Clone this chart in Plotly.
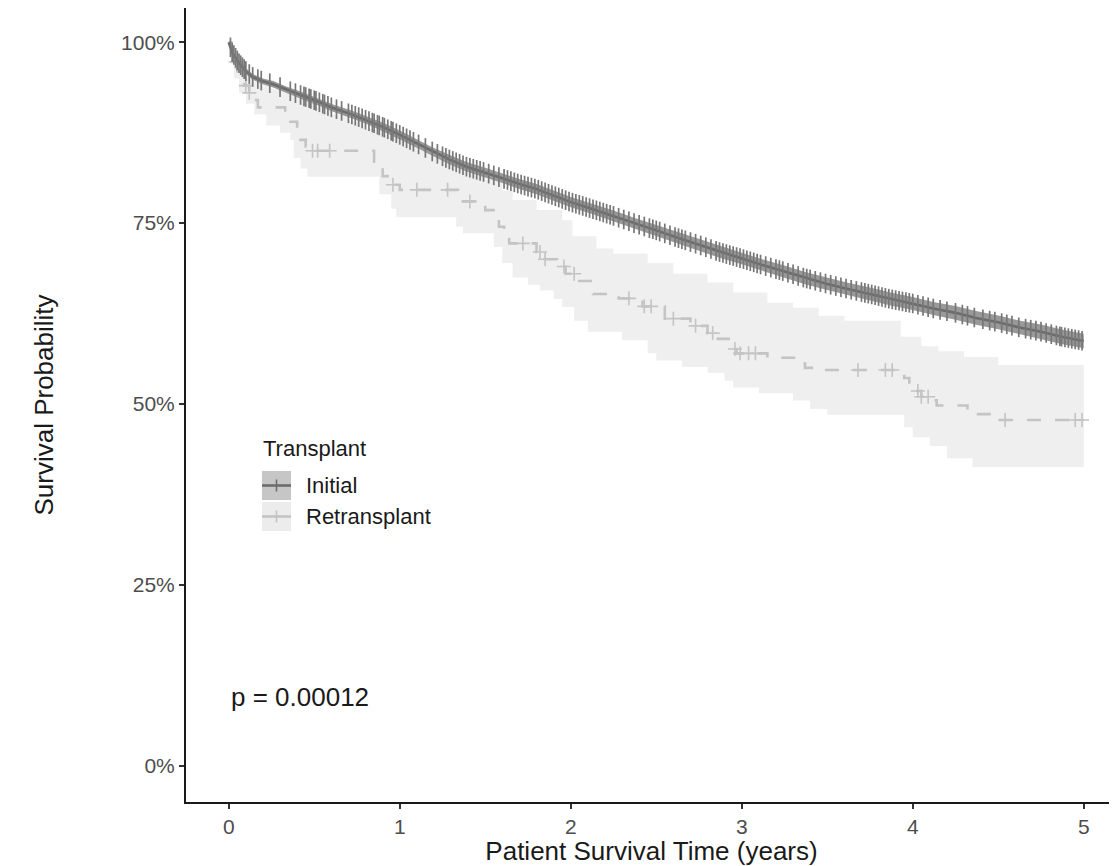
import numpy as np
import plotly.graph_objects as go

# ---------------- data (survival in %) ----------------
# Initial transplant: KM estimate (dense -> practically smooth)
init_t = [0, 0.02, 0.06, 0.10, 0.14, 0.20, 0.26, 0.34, 0.42, 0.52,
          0.61, 0.71, 0.81, 0.90, 1.00, 1.10, 1.19, 1.29, 1.39, 1.50,
          1.60, 1.70, 1.80, 1.90, 2.00, 2.12, 2.25, 2.37, 2.50, 2.62,
          2.75, 2.87, 3.00, 3.12, 3.25, 3.37, 3.50, 3.62, 3.75, 3.87,
          4.00, 4.12, 4.25, 4.37, 4.50, 4.62, 4.75, 4.87, 5.00]
init_s = [100, 98.6, 97.1, 96.0, 95.2, 94.6, 94.2, 93.4, 92.7, 91.8,
          90.9, 90.1, 89.2, 88.3, 87.2, 86.0, 84.9, 83.8, 82.8, 82.0,
          81.2, 80.4, 79.7, 78.8, 77.9, 77.0, 76.0, 75.0, 74.0, 73.0,
          72.0, 71.0, 70.1, 69.2, 68.3, 67.4, 66.6, 65.9, 65.2, 64.5,
          63.9, 63.2, 62.6, 61.9, 61.3, 60.6, 60.0, 59.3, 58.7]
init_hi = [100, 98.8, 97.4, 96.4, 95.6, 95.0, 94.65, 93.85, 93.2, 92.3,
           91.4, 90.65, 89.75, 88.9, 87.8, 86.6, 85.5, 84.45, 83.45, 82.65,
           81.85, 81.1, 80.4, 79.5, 78.6, 77.7, 76.75, 75.75, 74.75, 73.75,
           72.8, 71.8, 70.9, 70.0, 69.15, 68.25, 67.45, 66.75, 66.1, 65.4,
           64.8, 64.1, 63.55, 62.85, 62.25, 61.55, 61.0, 60.3, 59.7]
init_lo = [100, 98.4, 96.8, 95.6, 94.8, 94.2, 93.75, 92.95, 92.2, 91.3,
           90.4, 89.55, 88.65, 87.7, 86.6, 85.4, 84.3, 83.15, 82.15, 81.35,
           80.55, 79.7, 79.0, 78.1, 77.2, 76.3, 75.25, 74.25, 73.25, 72.25,
           71.2, 70.2, 69.3, 68.4, 67.45, 66.55, 65.75, 65.05, 64.3, 63.6,
           63.0, 62.3, 61.65, 60.95, 60.35, 59.65, 59.0, 58.3, 57.7]
init_cens = [0.01, 0.02, 0.03, 0.04, 0.05, 0.06, 0.07, 0.08, 0.09, 0.10,
             0.12, 0.14, 0.17, 0.19, 0.24, 0.30, 0.36, 0.39, 0.42, 0.44,
             0.45, 0.47, 0.48, 0.50, 0.51, 0.53, 0.55, 0.56, 0.58, 0.60,
             0.63, 0.66, 0.70, 0.72, 0.74, 0.76, 0.78, 0.80, 0.82, 0.84,
             0.85, 0.87, 0.88, 0.90, 0.91, 0.93, 0.95, 0.96, 0.98, 1.00,
             1.02, 1.04, 1.06, 1.08, 1.11, 1.15, 1.19, 1.22, 1.25, 1.27,
             1.29, 1.31, 1.33, 1.35, 1.37, 1.39, 1.41, 1.43, 1.45, 1.47,
             1.49, 1.52, 1.55, 1.58, 1.61, 1.63, 1.65, 1.67, 1.69, 1.71,
             1.73, 1.75, 1.77, 1.79, 1.81, 1.83, 1.85, 1.87, 1.89, 1.91,
             1.93, 1.95, 1.97, 1.99, 2.01, 2.03, 2.05, 2.07, 2.09, 2.11,
             2.13, 2.15, 2.17, 2.19, 2.21, 2.23, 2.25, 2.28, 2.31, 2.34,
             2.37, 2.40, 2.43, 2.46, 2.48, 2.50, 2.52, 2.55, 2.58, 2.61,
             2.63, 2.65, 2.67, 2.70, 2.73, 2.76, 2.79, 2.82, 2.85, 2.87,
             2.89, 2.91, 2.93, 2.95, 2.97, 2.99, 3.01, 3.03, 3.05, 3.07,
             3.09, 3.11, 3.14, 3.17, 3.20, 3.22, 3.24, 3.27, 3.30, 3.33,
             3.36, 3.38, 3.40, 3.43, 3.46, 3.49, 3.52, 3.55, 3.58, 3.61,
             3.64, 3.67, 3.70, 3.72, 3.74, 3.76, 3.78, 3.80, 3.82, 3.84,
             3.86, 3.88, 3.90, 3.92, 3.94, 3.96, 3.98, 4.00, 4.03, 4.06,
             4.09, 4.12, 4.16, 4.20, 4.25, 4.29, 4.32, 4.36, 4.41, 4.45,
             4.48, 4.52, 4.55, 4.58, 4.62, 4.66, 4.69, 4.72, 4.75, 4.78,
             4.81, 4.84, 4.86, 4.87, 4.89, 4.91, 4.93, 4.95, 4.97, 4.99]

# Retransplant: KM step curve
rt_t = [0, 0.015, 0.03, 0.05, 0.07, 0.09, 0.12, 0.14, 0.17, 0.33,
        0.36, 0.40, 0.42, 0.45, 0.47, 0.85, 0.90, 0.95, 1.00, 1.34,
        1.50, 1.58, 1.61, 1.64, 1.80, 1.84, 1.92, 1.97, 2.03, 2.13,
        2.28, 2.42, 2.55, 2.70, 2.80, 2.86, 2.94, 2.97, 3.15, 3.33,
        3.37, 3.45, 3.95, 3.98, 4.01, 4.05, 4.10, 4.14, 4.32, 4.48,
        5.00]
rt_s = [100, 98.5, 97.3, 96, 95, 94, 93, 92, 91, 90,
        89, 87.5, 86.5, 85.6, 85.0, 83.5, 81.5, 80.3, 79.6, 78.0,
        76.8, 74.5, 73.2, 72.2, 71.0, 70.0, 69.0, 68.0, 67.0, 65.2,
        64.6, 63.5, 61.8, 60.8, 59.8, 59.0, 57.6, 57.0, 56.4, 55.6,
        55.0, 54.7, 53.6, 52.5, 51.8, 51.0, 50.5, 49.8, 48.6, 47.8,
        47.8]
rt_cens = [0.04, 0.10, 0.12, 0.49, 0.52, 0.59, 0.96, 1.10, 1.28, 1.41,
           1.72, 1.82, 1.85, 1.96, 2.02, 2.34, 2.43, 2.47, 2.60, 2.73,
           2.83, 2.96, 2.99, 3.04, 3.08, 3.68, 3.84, 3.88, 4.03, 4.05,
           4.09, 4.54, 4.95, 4.99]
rt_hi_t = [0, 0.01, 0.03, 0.06, 0.10, 0.15, 0.25, 0.40, 0.50, 0.60,
           0.70, 0.80, 0.90, 1.00, 1.10, 1.20, 1.30, 1.40, 1.50, 1.60,
           1.66, 1.80, 1.95, 2.01, 2.15, 2.25, 2.45, 2.60, 2.80, 2.95,
           3.15, 3.30, 3.45, 3.60, 3.93, 4.05, 4.15, 4.30, 4.50, 5.00]
rt_hi = [100, 98.5, 97.5, 96.5, 95.5, 94.5, 93.5, 92.2, 91.0, 90.0,
         89.0, 88.0, 87.2, 86.3, 85.0, 84.0, 83.0, 82.0, 81.0, 79.5,
         78.2, 76.8, 75.4, 73.2, 71.5, 70.8, 69.5, 68.0, 66.8, 65.4,
         64.0, 63.3, 62.2, 61.5, 59.3, 58.0, 57.3, 56.5, 55.4, 55.4]
rt_lo_t = [0, 0.01, 0.03, 0.06, 0.10, 0.15, 0.22, 0.30, 0.36, 0.38,
           0.42, 0.46, 0.88, 0.95, 0.98, 1.33, 1.37, 1.55, 1.60, 1.66,
           1.75, 1.82, 1.90, 1.95, 2.02, 2.10, 2.30, 2.45, 2.50, 2.65,
           2.80, 2.90, 2.95, 3.10, 3.30, 3.40, 3.50, 3.95, 4.00, 4.10,
           4.20, 4.35, 5.00]
rt_lo = [100, 97, 95, 93, 91.5, 90, 88.5, 87.5, 86.5, 84,
         82.5, 81.4, 79, 77, 75.8, 74.5, 73.6, 71.7, 69.5, 67.5,
         66.5, 65.7, 64.5, 63.4, 61.5, 60, 58.8, 57, 56, 55.1,
         54.3, 53.2, 52.3, 51.5, 50.5, 49.3, 48.5, 46.8, 45.4, 44.2,
         42.5, 41.3, 41.3]

x_ticks = [0, 1, 2, 3, 4, 5]
y_ticks = [0, 0.25, 0.5, 0.75, 1.0]
y_ticklabels = ["0%", "25%", "50%", "75%", "100%"]
group_names = ["Initial", "Retransplant"]
p_text = "p = 0.00012"

# ---------------- styling ----------------
FONT = "Liberation Sans, Arial, Helvetica, sans-serif"
C_INIT_LINE = "#6c6c6c"
C_INIT_TICK = "#777777"
C_INIT_BAND = "#999999"
C_RT_LINE = "#c4c4c4"
C_RT_BAND = "#efefef"

# The page body has an 8 px margin, so the figure is sized/positioned to
# land on the same pixels as the reference in the 1117x866 window.
OFF = 8
W, H = 1117 - OFF, 866 - OFF
PLOT_L, PLOT_R, PLOT_T, PLOT_B = 186, 1117, 8, 802   # page pixels
ML, MR, MT, MB = PLOT_L - OFF, 0, PLOT_T - OFF, (866 - PLOT_B)
PX_PER_YEAR = 171.0
PX_PER_UNIT = 723.6


def px_x(px):
    return (px - PLOT_L) / (PLOT_R - PLOT_L)


def px_y(py):
    return (PLOT_B - py) / (PLOT_B - PLOT_T)


def pct(a):
    return np.asarray(a, dtype=float) / 100.0


def step_value(t_arr, s_arr, times):
    idx = np.searchsorted(np.asarray(t_arr), np.asarray(times), side="right") - 1
    return np.asarray(s_arr)[idx]


fig = go.Figure()

# Retransplant confidence band (step)
fig.add_trace(go.Scatter(x=rt_hi_t, y=pct(rt_hi), mode="lines",
                         line=dict(width=0, shape="hv", color=C_RT_BAND),
                         hoverinfo="skip", showlegend=False))
fig.add_trace(go.Scatter(x=rt_lo_t, y=pct(rt_lo), mode="lines",
                         line=dict(width=0, shape="hv", color=C_RT_BAND),
                         fill="tonexty", fillcolor=C_RT_BAND,
                         hoverinfo="skip", showlegend=False))

# Initial confidence band
fig.add_trace(go.Scatter(x=init_t, y=pct(init_hi), mode="lines",
                         line=dict(width=0, color=C_INIT_BAND),
                         hoverinfo="skip", showlegend=False))
fig.add_trace(go.Scatter(x=init_t, y=pct(init_lo), mode="lines",
                         line=dict(width=0, color=C_INIT_BAND),
                         fill="tonexty", fillcolor=C_INIT_BAND,
                         hoverinfo="skip", showlegend=False))

# Retransplant curve (dashed step) + censor marks
fig.add_trace(go.Scatter(x=rt_t, y=pct(rt_s), mode="lines", name=group_names[1],
                         line=dict(color=C_RT_LINE, width=2.6, shape="hv",
                                   dash="14px,14px"),
                         showlegend=False))
fig.add_trace(go.Scatter(x=rt_cens, y=pct(step_value(rt_t, rt_s, rt_cens)),
                         mode="markers", showlegend=False, hoverinfo="skip",
                         marker=dict(symbol="cross-thin", size=10,
                                     line=dict(color=C_RT_LINE, width=1.6))))

# Initial curve + censor marks
fig.add_trace(go.Scatter(x=init_t, y=pct(init_s), mode="lines", name=group_names[0],
                         line=dict(color=C_INIT_LINE, width=2.6),
                         showlegend=False))
fig.add_trace(go.Scatter(x=init_cens, y=pct(np.interp(init_cens, init_t, init_s)),
                         mode="markers", showlegend=False, hoverinfo="skip",
                         marker=dict(symbol="line-ns", size=14,
                                     line=dict(color=C_INIT_TICK, width=1.7))))

# ---------------- manual legend ----------------
shapes = []
annotations = []
legend_rows = [
    (group_names[0], 471, 500, "#c6c6c6", C_INIT_LINE),
    (group_names[1], 502, 531, "#ececec", C_RT_LINE),
]
for name, y0, y1, fillc, linec in legend_rows:
    yc = (y0 + y1) / 2
    shapes.append(dict(type="rect", xref="paper", yref="paper",
                       x0=px_x(262), x1=px_x(291), y0=px_y(y1), y1=px_y(y0),
                       fillcolor=fillc, line=dict(width=0), layer="above"))
    shapes.append(dict(type="line", xref="paper", yref="paper",
                       x0=px_x(262), x1=px_x(291), y0=px_y(yc), y1=px_y(yc),
                       line=dict(color=linec, width=2.6), layer="above"))
    shapes.append(dict(type="line", xref="paper", yref="paper",
                       x0=px_x(276.5), x1=px_x(276.5), y0=px_y(yc + 6), y1=px_y(yc - 6),
                       line=dict(color=linec, width=1.6), layer="above"))
    annotations.append(dict(text=name, xref="paper", yref="paper",
                            x=px_x(304), y=px_y(yc), xanchor="left", yanchor="middle",
                            showarrow=False, font=dict(size=22, color="#1a1a1a", family=FONT)))

annotations.append(dict(text="Transplant", xref="paper", yref="paper",
                        x=px_x(261), y=px_y(448), xanchor="left", yanchor="middle",
                        showarrow=False, font=dict(size=22, color="#1a1a1a", family=FONT)))

annotations.append(dict(text=p_text, xref="x", yref="y", x=0, y=0.095,
                        xanchor="left", yanchor="middle", showarrow=False,
                        font=dict(size=26, color="#1a1a1a", family=FONT)))

axis_common = dict(showgrid=False, zeroline=False, showline=True,
                   linecolor="#1a1a1a", linewidth=2, ticks="outside",
                   ticklen=5, tickwidth=2, tickcolor="#333333",
                   tickfont=dict(size=21, color="#4d4d4d", family=FONT))

y_bottom = -0.05
y_top = y_bottom + (PLOT_B - PLOT_T) / PX_PER_UNIT
x_left = -0.25
x_right = x_left + (PLOT_R - PLOT_L) / PX_PER_YEAR

fig.update_layout(
    width=W, height=H,
    margin=dict(l=ML, r=MR, t=MT, b=MB, pad=0),
    paper_bgcolor="white", plot_bgcolor="white",
    font=dict(family=FONT),
    showlegend=False,
    shapes=shapes,
    annotations=annotations,
    xaxis=dict(range=[x_left, x_right],
               tickvals=x_ticks, ticktext=[str(v) for v in x_ticks],
               title=dict(text="Patient Survival Time (years)", standoff=6,
                          font=dict(size=26, color="#1a1a1a", family=FONT)),
               **axis_common),
    yaxis=dict(range=[y_bottom, y_top], tickvals=y_ticks, ticktext=y_ticklabels,
               title=dict(text="Survival Probability", standoff=60,
                          font=dict(size=26, color="#1a1a1a", family=FONT)),
               **axis_common),
)

fig.write_html("out.html")
